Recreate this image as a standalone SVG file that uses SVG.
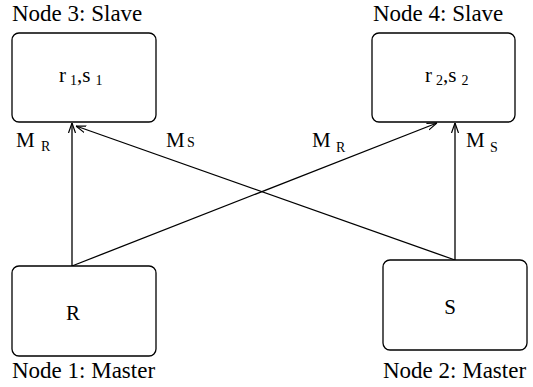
<svg xmlns="http://www.w3.org/2000/svg" width="533" height="387" viewBox="0 0 533 387" font-family="'Liberation Serif', 'Times New Roman', Times, serif">
<style>
text{font-family:'Liberation Serif','Times New Roman',Times,serif;fill:#000}
.lbl{font-size:23px}
.in{font-size:21px}
.sub{font-size:14px}
.box{fill:#fff;stroke:#000;stroke-width:1.3}
.edge{stroke:#000;stroke-width:1.3;fill:none;marker-end:url(#ah)}
</style>
<defs>
<marker id="ah" viewBox="0 0 10 10" refX="10" refY="5" markerWidth="10" markerHeight="10" markerUnits="userSpaceOnUse" orient="auto">
<path d="M0,1.5 L10,5 L0,8.5" fill="none" stroke="#000" stroke-width="1.2"/>
</marker>
</defs>
<rect width="533" height="387" fill="#fff"/>
<g id="connectors">
<line class="edge" x1="72" y1="266" x2="72" y2="123"/>
<line class="edge" x1="455" y1="260" x2="76" y2="126"/>
<line class="edge" x1="72" y1="266" x2="437" y2="123"/>
<line class="edge" x1="455" y1="260" x2="455" y2="123"/>
<text class="in" x="16" y="147">M</text><text class="sub" x="41" y="151">R</text>
<text class="in" x="166" y="147">M</text><text class="sub" x="187" y="147">S</text>
<text class="in" x="312" y="147">M</text><text class="sub" x="336" y="152">R</text>
<text class="in" x="466" y="147">M</text><text class="sub" x="490" y="152">S</text>
</g>
<g id="node3">
<rect class="box" x="12" y="33" width="144" height="89" rx="7"/>
<text class="lbl" x="12" y="21">Node 3: Slave</text>
<text class="in" x="59" y="82">r<tspan class="sub" dy="3" dx="4">1</tspan><tspan dy="-3">,s</tspan><tspan class="sub" dy="3" dx="5">1</tspan></text>
</g>
<g id="node4">
<rect class="box" x="372" y="33" width="143" height="89" rx="7"/>
<text class="lbl" x="373" y="21">Node 4: Slave</text>
<text class="in" x="425" y="82">r<tspan class="sub" dy="3" dx="4">2</tspan><tspan dy="-3">,s</tspan><tspan class="sub" dy="3" dx="5">2</tspan></text>
</g>
<g id="node1">
<rect class="box" x="12" y="266" width="144" height="90" rx="7"/>
<text class="in" x="73" y="320" text-anchor="middle">R</text>
<text class="lbl" x="12" y="378">Node 1: Master</text>
</g>
<g id="node2">
<rect class="box" x="383" y="260" width="144" height="90" rx="7"/>
<text class="in" x="450" y="314" text-anchor="middle">S</text>
<text class="lbl" x="383" y="378">Node 2: Master</text>
</g>
</svg>
